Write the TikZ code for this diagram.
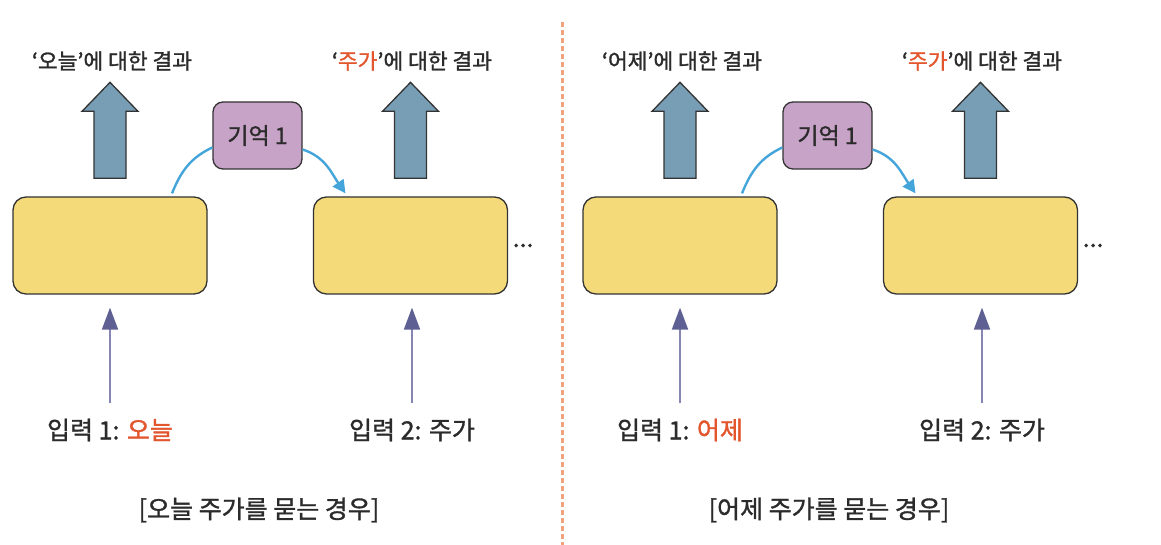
\documentclass[tikz,border=0pt]{standalone}
\usepackage{fontspec}
\setmainfont{Noto Sans CJK KR}[FakeBold=1.3]
\usetikzlibrary{positioning,arrows.meta}
\definecolor{cellyellow}{HTML}{F5DA7A}
\definecolor{memopurple}{HTML}{C8A3C8}
\definecolor{outblue}{HTML}{789EB6}
\definecolor{edgegray}{HTML}{333333}
\definecolor{textgray}{HTML}{2B2B2B}
\definecolor{hotred}{HTML}{E2552D}
\definecolor{curveblue}{HTML}{44A5DB}
\definecolor{inshaft}{HTML}{8587B2}
\definecolor{inhead}{HTML}{5E6094}
\definecolor{splitorange}{HTML}{F2A37E}
\newcommand{\hot}[1]{\textcolor{hotred}{#1}}

\begin{document}
\begin{tikzpicture}[x=1pt, y=1pt,
    cell/.style={draw=edgegray, line width=1.3pt, fill=cellyellow, rounded corners=13pt,
        minimum width=194pt, minimum height=97pt},
    memo/.style={draw=edgegray, line width=1.3pt, fill=memopurple, rounded corners=10pt,
        minimum width=89pt, minimum height=67pt, font=\fontsize{23}{23}\selectfont, text=textgray},
    toplbl/.style={font=\fontsize{21.5}{21.5}\selectfont, text=textgray},
    lbl/.style={font=\fontsize{25}{25}\selectfont, text=textgray},
    outarrow/.style={draw=edgegray, line width=1.3pt, fill=outblue, line join=miter},
    inarrow/.style={draw=inshaft, line width=2pt, -{Triangle[length=22pt, width=16pt, color=inhead]}},
    memarrow/.style={draw=curveblue, line width=2.4pt},
    splitline/.style={draw=splitorange, line width=3pt, dash pattern=on 5pt off 3pt}]
    \useasboundingbox (0,0) rectangle (1161,545);

    % two cases side by side
    \foreach \dx/\word/\p in {0/오늘/l, 570/어제/r} {
        \begin{scope}[xshift=\dx]
            \node[cell] (\p c1) at (110,299.5) {};
            \node[cell] (\p c2) at (410.5,299.5) {};
            \node[memo] (\p m) at (257.5,409.5) {기억 1};
            \node[lbl, right=1pt of \p c2] (\p dots) {...};

            % outputs
            \node[toplbl] (\p o1) at (112,484) {‘\word’에 대한 결과};
            \node[toplbl] (\p o2) at (412,484) {‘\hot{주가}’에 대한 결과};
            \draw[outarrow] ([xshift=-16pt, yshift=18pt]\p c1.north) -- ++(0,67) -- ++(-12,0) -- ++(28,29)
                -- ++(28,-29) -- ++(-12,0) -- ++(0,-67) -- cycle;
            \draw[outarrow] ([xshift=-16pt, yshift=18pt]\p c2.north) -- ++(0,67) -- ++(-12,0) -- ++(28,29)
                -- ++(28,-29) -- ++(-12,0) -- ++(0,-67) -- cycle;

            % memory passed on
            \coordinate (\p s) at ([xshift=62pt, yshift=3pt]\p c1.north);
            \coordinate (\p e) at ([xshift=-65pt, yshift=3pt]\p c2.north);
            \draw[memarrow] (\p s) to[out=68, in=205] ([yshift=-12pt]\p m.west);
            \draw[memarrow, -{Triangle[length=13pt, width=13pt]}] ([yshift=-14pt]\p m.east) to[out=-18, in=125] (\p e);

            % inputs
            \node[lbl] (\p i1) at (110,115) {입력 1: \hot{\word}};
            \node[lbl] (\p i2) at (412,115) {입력 2: 주가};
            \draw[inarrow, shorten <=12pt, shorten >=13pt] (\p i1.north) -- (\p i1.north |- \p c1.south);
            \draw[inarrow, shorten <=12pt, shorten >=13pt] (\p i2.north) -- (\p i2.north |- \p c2.south);

            \node[lbl] (\p cap) at (259,35) {[\word{} 주가를 묻는 경우]};
        \end{scope}
    }

    \coordinate (splittop) at (562,523);
    \coordinate (splitbot) at (562,0);
    \draw[splitline] (splittop) -- (splitbot);
\end{tikzpicture}
\end{document}
